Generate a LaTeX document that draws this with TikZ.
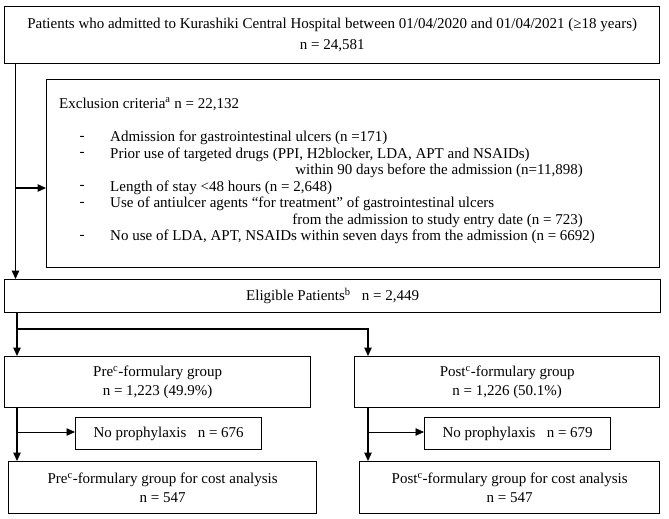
\documentclass[tikz,border=0pt]{standalone}
\usepackage{fontspec}
\setmainfont{Liberation Serif}
\usetikzlibrary{arrows.meta}
\begin{document}
\begin{tikzpicture}[x=1pt,y=-1pt,
  box/.style={draw, line width=1.3pt, inner sep=0pt, anchor=north west, align=center,
    font=\fontsize{15}{18.5}\selectfont},
  conn/.style={line width=1.3pt, -{Triangle[length=8.5pt,width=7.5pt]}},
  thinconn/.style={line width=0.8pt, -{Triangle[length=8.5pt,width=7.5pt]}},
  txt/.style={font=\fontsize{15}{18}\selectfont, inner sep=0pt},
  item/.style={txt, anchor=west},
  cont/.style={txt, anchor=east},
  dashmark/.style={txt, anchor=center}]
\useasboundingbox (0,0) rectangle (669,519);

% boxes
\node[box, minimum width=655pt, minimum height=57pt, font=\fontsize{15}{21}\selectfont] (top) at (4,6)
  {Patients who admitted to Kurashiki Central Hospital between 01/04/2020 and 01/04/2021 (≥18 years)\\ n = 24,581};
\node[box, minimum width=613pt, minimum height=188pt] (excl) at (46,79) {};
\node[box, minimum width=656pt, minimum height=33pt] (elig) at (4,279)
  {Eligible Patients\textsuperscript{b}\ \ \ n = 2,449};
\node[box, minimum width=306pt, minimum height=51pt] (pre) at (4,356)
  {Pre\textsuperscript{c}-formulary group\\ n = 1,223 (49.9\%)};
\node[box, minimum width=305pt, minimum height=51pt] (post) at (354,356)
  {Post\textsuperscript{c}-formulary group\\ n = 1,226 (50.1\%)};
\node[box, minimum width=186pt, minimum height=32pt] (np1) at (75,417)
  {No prophylaxis\ \ \ n = 676};
\node[box, minimum width=186pt, minimum height=32pt] (np2) at (424,417)
  {No prophylaxis\ \ \ n = 679};
\node[box, minimum width=308pt, minimum height=52pt] (pc) at (8,461)
  {Pre\textsuperscript{c}-formulary group for cost analysis\\ n = 547};
\node[box, minimum width=300pt, minimum height=52pt] (qc) at (359,461)
  {Post\textsuperscript{c}-formulary group for cost analysis\\ n = 547};

% exclusion text
\node[item] (ex0) at (59,104) {Exclusion criteria\textsuperscript{a} n = 22,132};
\node[dashmark] (d1) at (82,138) {-};
\node[item] (ex1) at (110,138) {Admission for gastrointestinal ulcers (n =171)};
\node[dashmark] (d2) at (82,154.5) {-};
\node[item] (ex2) at (110,154.5) {Prior use of targeted drugs (PPI, H2blocker, LDA, APT and NSAIDs)};
\node[cont] (ex2b) at (583,171) {within 90 days before the admission (n=11,898)};
\node[dashmark] (d3) at (82,187.5) {-};
\node[item] (ex3) at (110,187.5) {Length of stay <48 hours (n = 2,648)};
\node[dashmark] (d4) at (82,204) {-};
\node[item] (ex4) at (110,204) {Use of antiulcer agents “for treatment” of gastrointestinal ulcers};
\node[cont] (ex4b) at (583,220.5) {from the admission to study entry date (n = 723)};
\node[dashmark] (d5) at (82,237) {-};
\node[item] (ex5) at (110,237) {No use of LDA, APT, NSAIDs within seven days from the admission (n = 6692)};

% connector coordinates
\coordinate (L1) at (15.5,0);
\coordinate (J1) at (15.5,188);
\coordinate (L2) at (17,0);
\coordinate (B1) at (17,329);
\coordinate (R1) at (368,0);
\coordinate (K1) at (17,432);
\coordinate (K2) at (368,432);

% connectors
\draw[conn] (top.south -| L1) -- (elig.north -| L1);
\draw[conn] (J1) -- (excl.west |- J1);
\draw[conn] (elig.south -| L2) -- (pre.north -| L2);
\draw[conn] (B1) -- (B1 -| R1) -- (post.north -| R1);
\draw[conn] (pre.south -| L2) -- (pc.north -| L2);
\draw[thinconn] (K1) -- (np1.west |- K1);
\draw[conn] (post.south -| R1) -- (qc.north -| R1);
\draw[thinconn] (K2) -- (np2.west |- K2);
\end{tikzpicture}
\end{document}
